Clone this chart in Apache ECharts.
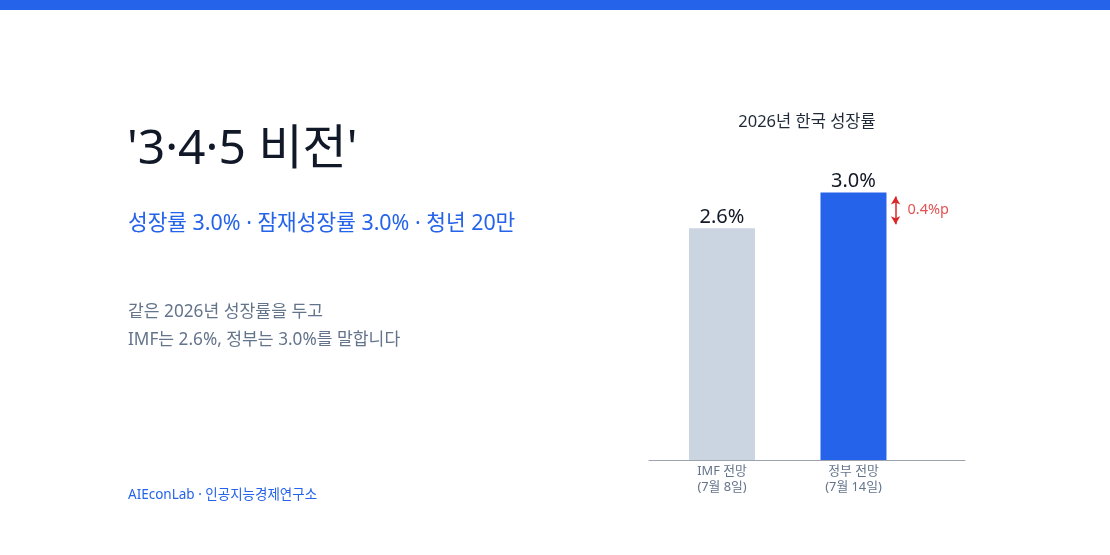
<!DOCTYPE html>
<html>
<head>
<meta charset="utf-8">
<script src="https://cdn.jsdelivr.net/npm/echarts@6/dist/echarts.min.js"></script>
<style>
  html, body { margin: 0; padding: 0; background: #ffffff; }
  #chart { width: 1110px; height: 555px; }
</style>
</head>
<body>
<div id="chart"></div>
<script>
// ---- data ----
const categories = ['IMF 전망\n(7월 8일)', '정부 전망\n(7월 14일)'];
const growthValues = [2.6, 3.0];
const barColors = ['#cbd5e1', '#2563eb'];
const chartTitle = '2026년 한국 성장률';
const headline = "'3·4·5 비전'";
const subline = '성장률 3.0% · 잠재성장률 3.0% · 청년 20만';
const bodyLines = ['같은 2026년 성장률을 두고', 'IMF는 2.6%, 정부는 3.0%를 말합니다'];
const footer = 'AIEconLab · 인공지능경제연구소';

const FONT = "'Noto Sans', 'Noto Sans CJK KR', sans-serif";
const gap = +(growthValues[1] - growthValues[0]).toFixed(1);
const arrowX = 1.32;

const chart = echarts.init(document.getElementById('chart'), null, { renderer: 'canvas' });
chart.setOption({
  backgroundColor: '#ffffff',
  animation: false,
  textStyle: { fontFamily: FONT },
  graphic: [
    { type: 'rect', left: 0, top: 0, shape: { width: 1110, height: 10 }, style: { fill: '#2563eb' } }
  ],
  title: [
    { text: headline, left: 127, top: 126, padding: 0,
      textStyle: { fontFamily: FONT, fontSize: 48, fontWeight: 'normal', color: '#111827' } },
    { text: subline, left: 128, top: 213, padding: 0,
      textStyle: { fontFamily: FONT, fontSize: 21.4, fontWeight: 'normal', color: '#2563eb' } },
    { text: bodyLines.join('\n'), left: 128, top: 298, padding: 0,
      textStyle: { fontFamily: FONT, fontSize: 17.2, fontWeight: 'normal', color: '#64748b', lineHeight: 28 } },
    { text: footer, left: 128, top: 488, padding: 0,
      textStyle: { fontFamily: FONT, fontSize: 13.5, fontWeight: 'normal', color: '#2563eb' } },
    { text: chartTitle, left: 807, top: 114, padding: 0, textAlign: 'center',
      textStyle: { fontFamily: FONT, fontSize: 16.5, fontWeight: 'normal', color: '#1f2937' } }
  ],
  grid: { left: 649, right: 145, top: 139, bottom: 95, containLabel: false },
  xAxis: {
    type: 'value',
    min: -0.555,
    max: 1.848,
    splitLine: { show: false },
    axisTick: { show: false },
    axisLine: { show: true, onZero: false, lineStyle: { color: '#9ca3af', width: 1 } },
    axisLabel: {
      customValues: [0, 1],
      formatter: (v) => categories[Math.round(v)] || '',
      color: '#64748b', fontSize: 12.8, lineHeight: 16, margin: 3, fontFamily: FONT
    }
  },
  yAxis: {
    type: 'value', min: 0, max: 3.6,
    show: false
  },
  series: [
    {
      type: 'bar',
      barWidth: 66,
      data: growthValues.map((v, i) => ({ value: [i, v], itemStyle: { color: barColors[i] } })),
      label: {
        show: true, position: 'top', distance: 1,
        formatter: (p) => p.value[1].toFixed(1) + '%',
        color: '#111827', fontSize: 20, fontFamily: FONT
      },
      markLine: {
        silent: true,
        symbol: ['arrow', 'arrow'],
        symbolSize: [7, 8],
        label: { show: false },
        lineStyle: { color: '#dc2626', width: 1.5, type: 'solid' },
        data: [[
          { coord: [arrowX, growthValues[1] - 0.045] },
          { coord: [arrowX, growthValues[0] + 0.045] }
        ]]
      }
    },
    {
      type: 'scatter',
      symbolSize: 0,
      data: [[arrowX, (growthValues[0] + growthValues[1]) / 2]],
      label: {
        show: true, position: 'right', distance: 12,
        formatter: () => gap.toFixed(1) + '%p',
        color: '#dc2626', fontSize: 14.5, fontFamily: FONT
      }
    }
  ]
});
</script>
</body>
</html>
